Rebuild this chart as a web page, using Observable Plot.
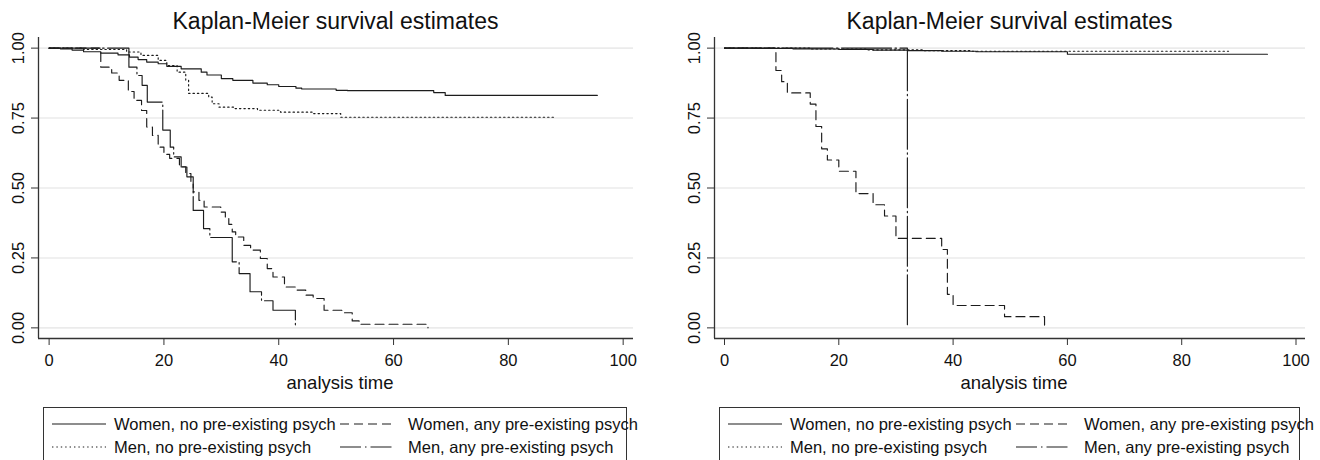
<!DOCTYPE html>
<html>
<head>
<meta charset="utf-8">
<script src="https://cdn.jsdelivr.net/npm/d3@7"></script>
<script src="https://cdn.jsdelivr.net/npm/@observablehq/plot@0.6"></script>
<style>
  html, body { margin: 0; padding: 0; background: #fff; }
  #root { position: relative; width: 1320px; height: 460px; overflow: hidden; background: #fff;
          font-family: "Liberation Sans", Arial, Helvetica, sans-serif; color: #111; }
  .panel { position: absolute; top: 0; width: 660px; height: 460px; }
  .title { position: absolute; top: 8px; font-size: 23px; line-height: 26px; text-align: center; white-space: nowrap; }
  .legend { position: absolute; top: 407px; height: 70px; border: 1.3px solid #333; box-sizing: border-box; }
  .legend span { position: absolute; font-size: 16.5px; line-height: 20px; white-space: nowrap; color: #111; }
  .legend svg { position: absolute; overflow: visible; }
</style>
</head>
<body>
<div id="root"></div>
<script>
// ---------- data (time, survival) ----------
const titleText = "Kaplan-Meier survival estimates";
const xLabel = "analysis time";
const xTicks = [0, 20, 40, 60, 80, 100];
const yTicks = [0, 0.25, 0.5, 0.75, 1];
const seriesNames = [
  "Women, no pre-existing psych",
  "Women, any pre-existing psych",
  "Men, no pre-existing psych",
  "Men, any pre-existing psych"
];

// Left panel
const leftWomenNo = [[0,1],[2,0.997],[4,0.993],[6,0.987],[9,0.982],[12,0.976],[14,0.968],[15.5,0.959],[17,0.95],[19,0.944],[20.5,0.935],[23,0.926],[26.5,0.914],[27.5,0.904],[30,0.891],[32,0.885],[35.5,0.875],[38,0.869],[40,0.863],[43,0.857],[44,0.854],[50,0.849],[52,0.848],[67,0.841],[69,0.831],[95.5,0.831]];
const leftMenNo = [[0,1],[6,0.995],[13.5,0.986],[16,0.974],[19,0.956],[20.5,0.938],[22.3,0.914],[23.8,0.885],[24.3,0.838],[27.8,0.825],[28.4,0.801],[29.6,0.789],[32.2,0.784],[36.3,0.778],[40.3,0.771],[46,0.766],[50.8,0.753],[88.3,0.753]];
const leftWomenAny = [[0,1],[9,0.932],[10.9,0.911],[12.2,0.885],[13.8,0.845],[14.8,0.813],[16.1,0.777],[17,0.718],[18,0.688],[19,0.646],[20,0.62],[21,0.606],[22.7,0.576],[23.8,0.552],[24.7,0.523],[25.1,0.486],[26.1,0.456],[27,0.432],[29.9,0.414],[30.7,0.394],[31.3,0.37],[31.9,0.343],[32.5,0.325],[33.9,0.295],[35.1,0.278],[36.8,0.248],[38,0.212],[39,0.182],[41,0.146],[43,0.135],[44.7,0.117],[46,0.105],[47.9,0.063],[51,0.054],[52.8,0.025],[54,0.013],[66,0]];
const leftMenAny = [[0,1],[13.9,0.932],[15.3,0.902],[16.2,0.867],[17.1,0.807],[19.8,0.707],[21.1,0.646],[21.7,0.611],[23,0.575],[24,0.54],[25.1,0.42],[26.9,0.355],[28,0.323],[31.9,0.236],[33.1,0.194],[35,0.129],[37,0.097],[39,0.063],[42.9,0]];

// Right panel
const rightWomenNo = [[0,1],[5,0.999],[12,0.997],[20,0.995],[26,0.993],[32,0.991],[38,0.989],[44,0.987],[60,0.978],[95,0.978]];
const rightMenNo = [[0,1],[15,0.997],[25,0.994],[35,0.991],[43,0.989],[88.2,0.989]];
const rightWomenAny = [[0,1],[9,0.92],[10,0.88],[11,0.84],[15,0.8],[16,0.72],[17,0.64],[18,0.6],[20,0.56],[23,0.48],[26,0.44],[28,0.4],[30,0.32],[38,0.28],[39,0.12],[40,0.08],[49,0.04],[56,0]];
const rightMenAny = [[0,1],[32,0]];

// ---------- styles ----------
const INK = "#1c1c1c";
const FONT = '"Liberation Sans", Arial, Helvetica, sans-serif';
const plotDashes = { solid: null, dashed: "9,5", dotted: "1.4,3", dashdot: "50,3.5,1.5,3.5" };
const legendDashes = { solid: null, dashed: "9,5", dotted: "1.4,3", dashdot: "21,4,1.5,4" };
const legendStyles = ["solid", "dashed", "dotted", "dashdot"];
const yDomain = [-0.038, 1.038];
const fmt2 = d => d.toFixed(2);

function panel(left, opts, series) {
  const p = document.createElement("div");
  p.className = "panel";
  p.style.left = left + "px";

  const t = document.createElement("div");
  t.className = "title";
  t.style.left = opts.ml + "px";
  t.style.width = (660 - opts.ml - opts.mr) + "px";
  t.textContent = titleText;
  p.appendChild(t);

  const lineMark = (data, style) => Plot.line(data, {
    x: d => d[0], y: d => d[1], curve: "step-after",
    stroke: INK, strokeWidth: 1.15,
    strokeDasharray: plotDashes[style] || undefined
  });

  const chart = Plot.plot({
    width: 660, height: 370,
    marginLeft: opts.ml, marginRight: opts.mr, marginTop: 7, marginBottom: 62,
    x: { domain: opts.xDomain },
    y: { domain: yDomain },
    style: { fontFamily: FONT, fontSize: "16.5px", color: "#111", background: "transparent", overflow: "visible" },
    marks: [
      Plot.gridY(yTicks, { stroke: "#ebebeb", strokeOpacity: 1, strokeWidth: 1.6 }),
      Plot.ruleX([opts.xDomain[0]], { stroke: "#333", strokeWidth: 1.3 }),
      Plot.ruleY([yDomain[0]], { stroke: "#333", strokeWidth: 1.3 }),
      Plot.axisX({ ticks: xTicks, tickSize: 7, tickPadding: 9, label: null, stroke: "#333", fontSize: 16.5, fontFamily: FONT }),
      Plot.axisY({ ticks: yTicks, tickSize: 7, tickFormat: () => "", label: null, stroke: "#333" }),
      Plot.text(yTicks, { y: d => d, text: fmt2, frameAnchor: "left", textAnchor: "middle", lineAnchor: "middle",
                          dx: -20, rotate: -90, fontSize: 16.5, fontFamily: FONT, fill: "#111" }),
      Plot.text([xLabel], { text: d => d, frameAnchor: "bottom", dy: 50, dx: 4, fontSize: 18.5, fontFamily: FONT, fill: "#111" }),
      lineMark(series[0], "solid"),
      lineMark(series[1], "dashed"),
      lineMark(series[2], "dotted"),
      lineMark(series[3], "dashdot")
    ]
  });
  chart.style.position = "absolute";
  chart.style.top = "30px";
  chart.style.left = "0px";
  chart.style.fontSize = "16.5px";
  chart.style.fontFamily = FONT;
  // make sure the y tick labels are turned to read bottom-to-top
  const labels = new Set(yTicks.map(fmt2));
  chart.querySelectorAll("text").forEach(el => {
    if (labels.has(el.textContent.trim())) {
      const tr = el.getAttribute("transform") || "";
      if (!/rotate/.test(tr)) el.setAttribute("transform", tr + " rotate(-90)");
      el.setAttribute("text-anchor", "middle");
    }
  });
  p.appendChild(chart);

  // legend box
  const lg = document.createElement("div");
  lg.className = "legend";
  lg.style.left = opts.lgLeft + "px";
  lg.style.width = opts.lgWidth + "px";
  const cols = [[8, 70], [296, 364]];
  const rows = [16, 38.7];
  const order = [[0, 0, 0], [1, 1, 0], [2, 0, 1], [3, 1, 1]]; // series, col, row
  const svgNS = "http://www.w3.org/2000/svg";
  for (const [si, ci, ri] of order) {
    const [sx, tx] = cols[ci];
    const cy = rows[ri];
    const s = document.createElementNS(svgNS, "svg");
    s.setAttribute("width", 55); s.setAttribute("height", 4);
    s.style.left = sx + "px"; s.style.top = (cy - 2) + "px";
    const ln = document.createElementNS(svgNS, "line");
    ln.setAttribute("x1", 0); ln.setAttribute("x2", 54);
    ln.setAttribute("y1", 2); ln.setAttribute("y2", 2);
    ln.setAttribute("stroke", INK); ln.setAttribute("stroke-width", 1.15);
    const da = legendDashes[legendStyles[si]];
    if (da) ln.setAttribute("stroke-dasharray", da);
    s.appendChild(ln);
    lg.appendChild(s);
    const sp = document.createElement("span");
    sp.textContent = seriesNames[si];
    sp.style.left = tx + "px";
    sp.style.top = (cy - 10) + "px";
    lg.appendChild(sp);
  }
  p.appendChild(lg);
  return p;
}

const root = document.getElementById("root");
root.appendChild(panel(0, { ml: 38, mr: 27, xDomain: [-1.85, 101.8], lgLeft: 43, lgWidth: 584 },
  [leftWomenNo, leftWomenAny, leftMenNo, leftMenAny]));
root.appendChild(panel(660, { ml: 54, mr: 15, xDomain: [-1.75, 101.66], lgLeft: 59, lgWidth: 581 },
  [rightWomenNo, rightWomenAny, rightMenNo, rightMenAny]));
</script>
</body>
</html>
